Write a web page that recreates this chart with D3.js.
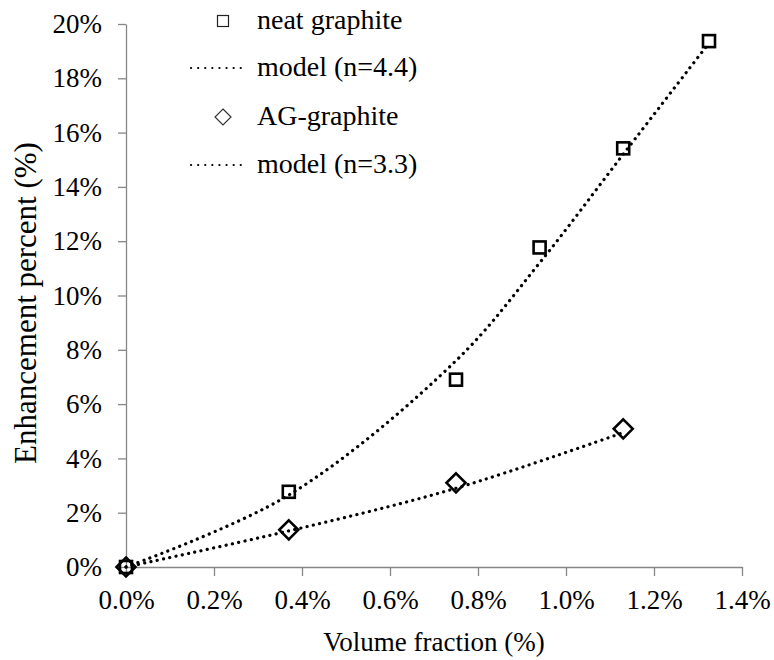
<!DOCTYPE html>
<html>
<head>
<meta charset="utf-8">
<script src="https://cdn.jsdelivr.net/npm/d3@7"></script>
</head>
<body style="margin:0;font-family:'Liberation Serif';">
<div id="wrap" style="font-family:'Liberation Serif';"></div>
<script>
// ---- data (percent units) ----
const xTicks = [0, 0.2, 0.4, 0.6, 0.8, 1.0, 1.2, 1.4];
const yTicks = [0, 2, 4, 6, 8, 10, 12, 14, 16, 18, 20];
const neatX = [0, 0.37, 0.75, 0.94, 1.13, 1.325];
const neatY = [0, 2.77, 6.9, 11.77, 15.42, 19.37];
const neatModelX = [0, 0.37, 0.75, 0.94, 1.13, 1.325];
const neatModelY = [0, 2.65, 7.6, 11.2, 15.2, 19.3];
const agX = [0, 0.37, 0.75, 1.13];
const agY = [0, 1.37, 3.1, 5.09];
const agModelX = [0, 0.37, 0.75, 1.13];
const agModelY = [0, 1.33, 2.9, 4.95];
const legendLabels = ["neat graphite", "model (n=4.4)", "AG-graphite", "model (n=3.3)"];
const xTitle = "Volume fraction (%)";
const yTitle = "Enhancement percent (%)";

const FONT = "Liberation Serif";
const svg = d3.select("#wrap").append("svg").attr("width", 774).attr("height", 660)
  .attr("font-family", FONT).style("display", "block");
const L = 126, R = 742, T = 24, B = 567;
const x = d3.scaleLinear().domain([0, 1.4]).range([L, R]);
const y = d3.scaleLinear().domain([0, 20]).range([B, T]);
const axisColor = "#878787";
const fs = 27;

function styleText(sel, size) {
  return sel.attr("font-family", FONT).style("font-family", "'Liberation Serif'")
    .attr("font-size", size || fs).attr("fill", "#000");
}

// axes
const xAxis = svg.append("g").attr("transform", `translate(0,${B})`)
  .call(d3.axisBottom(x).tickValues(xTicks).tickSize(9).tickSizeOuter(0).tickPadding(14)
    .tickFormat(d => d.toFixed(1) + "%"));
const yAxis = svg.append("g").attr("transform", `translate(${L},0)`)
  .call(d3.axisLeft(y).tickValues(yTicks).tickSize(8).tickSizeOuter(0).tickPadding(16)
    .tickFormat(d => d + "%"));
[xAxis, yAxis].forEach(g => {
  g.attr("font-family", FONT).attr("font-size", fs);
  g.select(".domain").attr("stroke", axisColor).attr("stroke-width", 1.3);
  g.selectAll(".tick line").attr("stroke", axisColor).attr("stroke-width", 1.3);
  styleText(g.selectAll(".tick text"));
});
xAxis.selectAll(".tick text").attr("dy", "0.71em");
yAxis.selectAll(".tick text").attr("dy", "0.32em");

// titles
styleText(svg.append("text").attr("x", (L + R) / 2).attr("y", 651).attr("text-anchor", "middle")).text(xTitle);
styleText(svg.append("text").attr("transform", "translate(36,303) rotate(-90)")
  .attr("text-anchor", "middle"), 31).text(yTitle);

const line = d3.line().x(d => x(d[0])).y(d => y(d[1])).curve(d3.curveCatmullRom.alpha(0.5));
const dotted = g => g.attr("fill", "none").attr("stroke", "#000").attr("stroke-width", 3.2)
  .attr("stroke-linecap", "round").attr("stroke-dasharray", "0.1 6.3");

const sq = 12, dm = 9.5;
function drawSquares(xs, ys) {
  svg.append("g").selectAll("rect").data(xs.map((v, i) => [v, ys[i]])).join("rect")
    .attr("x", d => x(d[0]) - sq / 2).attr("y", d => y(d[1]) - sq / 2)
    .attr("width", sq).attr("height", sq)
    .attr("fill", "none").attr("stroke", "#000").attr("stroke-width", 2.6);
}
function drawDiamonds(xs, ys) {
  svg.append("g").selectAll("path").data(xs.map((v, i) => [v, ys[i]])).join("path")
    .attr("d", d => { const cx = x(d[0]), cy = y(d[1]);
      return `M${cx},${cy - dm}L${cx + dm},${cy}L${cx},${cy + dm}L${cx - dm},${cy}Z`; })
    .attr("fill", "none").attr("stroke", "#000").attr("stroke-width", 2.6);
}

drawSquares(neatX, neatY);
svg.append("path").datum(neatModelX.map((v, i) => [v, neatModelY[i]])).attr("d", line).call(dotted);
drawDiamonds(agX, agY);
svg.append("path").datum(agModelX.map((v, i) => [v, agModelY[i]])).attr("d", line).call(dotted);

// legend
const legRows = [21, 68, 117, 165];
const lg = svg.append("g");
lg.append("rect").attr("x", 223 - 5.5).attr("y", legRows[0] - 5.5).attr("width", 11).attr("height", 11)
  .attr("fill", "none").attr("stroke", "#222").attr("stroke-width", 1.2);
lg.append("path").attr("d", `M223,${legRows[2] - 8}L231,${legRows[2]}L223,${legRows[2] + 8}L215,${legRows[2]}Z`)
  .attr("fill", "none").attr("stroke", "#333").attr("stroke-width", 1.2);
[1, 3].forEach(i => {
  lg.append("line").attr("x1", 191).attr("x2", 247).attr("y1", legRows[i]).attr("y2", legRows[i])
    .attr("stroke", "#000").attr("stroke-width", 2.2).attr("stroke-linecap", "round")
    .attr("stroke-dasharray", "0.1 7");
});
legendLabels.forEach((t, i) => {
  styleText(lg.append("text").attr("x", 257).attr("y", legRows[i] + 8), 28).text(t);
});
</script>
</body>
</html>
